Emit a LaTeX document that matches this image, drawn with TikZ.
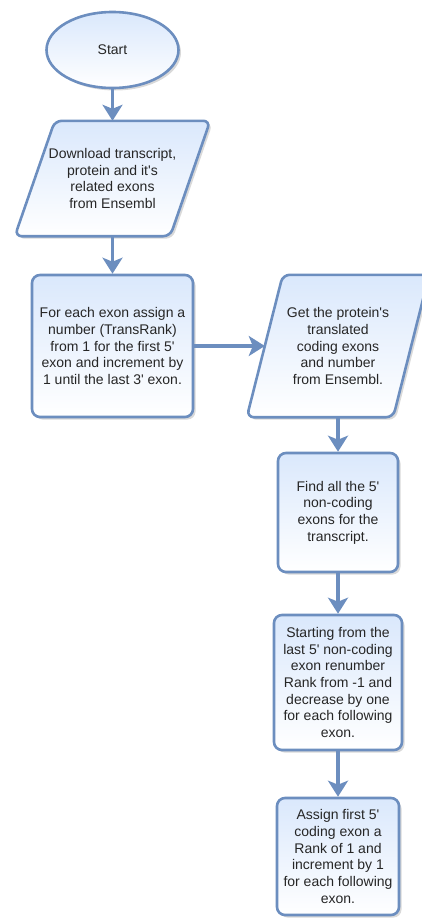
\documentclass[tikz,border=0pt]{standalone}
\usepackage{fontspec}
\setmainfont{Liberation Sans}[Ligatures=TeXOff]
\usetikzlibrary{arrows.meta,shapes.geometric,shadows,calc,backgrounds}
\definecolor{flowblue}{RGB}{108,142,191}
\definecolor{flowfill}{RGB}{218,232,252}
\tikzset{
  boxfill/.style={draw=flowblue, line width=2.6pt, top color=flowfill, bottom color=white,
    drop shadow={shadow xshift=2.5pt, shadow yshift=-2.5pt, opacity=0.3, fill=black!50}},
  boxtext/.style={font=\fontsize{14}{16.7}\selectfont, text=black!85, align=center, inner sep=0pt},
  termnode/.style={boxfill, boxtext, ellipse},
  procbox/.style={boxfill, boxtext, rectangle, rounded corners=8pt},
  iotext/.style={boxtext, rectangle},
  iobox/.style={boxfill, rounded corners=7pt},
  flowln/.style={-{Stealth[length=16pt,width=20pt,inset=4pt]}, line width=3.5pt, flowblue},
}
% parallelogram round a text node: #1 node, #2 half of the slant
\newcommand{\ioshape}[2]{%
  \path[iobox] ($(#1.north west)+(#2,0)$) -- ($(#1.north east)+(#2,0)$)
    -- ($(#1.south east)-(#2,0)$) -- ($(#1.south west)-(#2,0)$) -- cycle;
}

\begin{document}
\begin{tikzpicture}[x=1pt,y=-1pt]
    \useasboundingbox (0,0) rectangle (422,918);
    % left column
    \node[termnode, minimum width=132pt, minimum height=76pt] (start) at (112.5,50) {Start};
    \node[iotext, minimum width=155pt, minimum height=115pt] (fetch) at (112.5,178.5)
      {Download transcript,\\protein and it's\\related exons\\from Ensembl};
    \node[procbox, minimum width=161pt, minimum height=142pt] (transrank) at (112.5,346)
      {For each exon assign a\\number (TransRank)\\from 1 for the first 5'\\exon and increment by\\1 until the last 3' exon.};
    % right column
    \node[iotext, minimum width=146pt, minimum height=142pt] (coding) at (338,346)
      {Get the protein's\\translated\\coding exons\\and number\\from Ensembl.};
    \node[procbox, minimum width=120pt, minimum height=119pt] (noncoding) at (338,512.5)
      {Find all the 5'\\non-coding\\exons for the\\transcript.};
    \node[procbox, minimum width=128pt, minimum height=135pt] (negrank) at (338,682.5)
      {Starting from the\\last 5' non-coding\\exon renumber\\Rank from -1 and\\decrease by one\\for each following\\exon.};
    \node[procbox, minimum width=122pt, minimum height=117pt] (posrank) at (338,856.5)
      {Assign first 5'\\coding exon a\\Rank of 1 and\\increment by 1\\for each following\\exon.};
    % input/output shapes
    \begin{scope}[on background layer]
      \ioshape{fetch}{20}
      \ioshape{coding}{18}
    \end{scope}
    % connectors
    \foreach \a/\b in {start/fetch, fetch/transrank, transrank/coding,
      coding/noncoding, noncoding/negrank, negrank/posrank}
      { \draw[flowln] (\a) -- (\b); }
\end{tikzpicture}
\end{document}
